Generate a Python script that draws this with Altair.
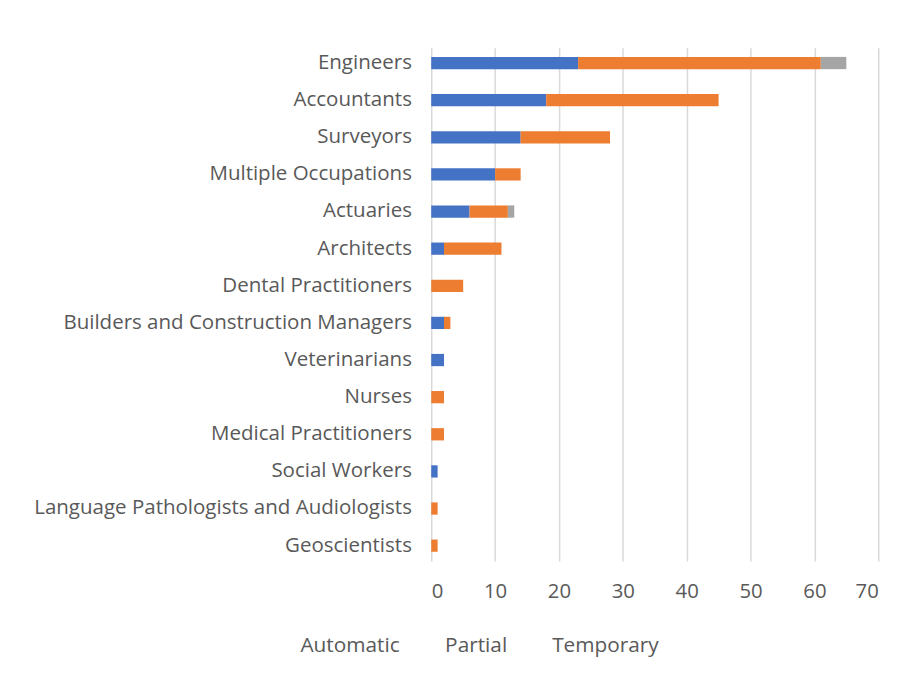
import altair as alt
import pandas as pd

occupations = ["Engineers", "Accountants", "Surveyors", "Multiple Occupations", "Actuaries",
               "Architects", "Dental Practitioners", "Builders and Construction Managers",
               "Veterinarians", "Nurses", "Medical Practitioners", "Social Workers",
               "Language Pathologists and Audiologists", "Geoscientists"]
automatic = [23, 18, 14, 10, 6, 2, 0, 2, 2, 0, 0, 1, 0, 0]
partial = [38, 27, 14, 4, 6, 9, 5, 1, 0, 2, 2, 0, 1, 1]
temporary = [4, 0, 0, 0, 1, 0, 0, 0, 0, 0, 0, 0, 0, 0]
series = ["Automatic", "Partial", "Temporary"]
colors = ["#4472C4", "#ED7D31", "#A5A5A5"]

rows = []
for i, occ in enumerate(occupations):
    for k, vals in enumerate([automatic, partial, temporary]):
        rows.append({"Occupation": occ, "Type": series[k], "Value": vals[i], "ord": k})
df = pd.DataFrame(rows)

font = "Open Sans"
chart = alt.Chart(df).mark_bar().encode(
    y=alt.Y("Occupation:N", sort=occupations,
            scale=alt.Scale(paddingInner=0.67, paddingOuter=0.25),
            axis=alt.Axis(title=None, ticks=False, domain=False, labelPadding=20,
                          labelFontSize=20.7, labelColor="#595959", labelFont=font,
                          labelLimit=500)),
    x=alt.X("Value:Q", stack="zero",
            scale=alt.Scale(domain=[0, 70]),
            axis=alt.Axis(title=None, values=list(range(0, 71, 10)), ticks=False, domain=False,
                          grid=True, gridColor="#D9D9D9", gridWidth=1.5, labelPadding=21,
                          labelFontSize=20.5, labelColor="#595959", labelFont=font)),
    color=alt.Color("Type:N", sort=series,
                    scale=alt.Scale(domain=series, range=colors),
                    legend=alt.Legend(title=None, orient="none", direction="horizontal",
                                      legendX=-153, legendY=593, symbolSize=0,
                                      symbolOpacity=0, labelFontSize=21, labelColor="#595959",
                                      labelFont=font, columnPadding=24, labelOffset=0)),
    order=alt.Order("ord:Q"),
).properties(
    width=451, height=518,
    padding={"left": 25, "top": 37, "right": 30, "bottom": 20},
).configure_view(stroke=None)

chart.save("out.html", embed_options={"renderer": "svg", "actions": False})
